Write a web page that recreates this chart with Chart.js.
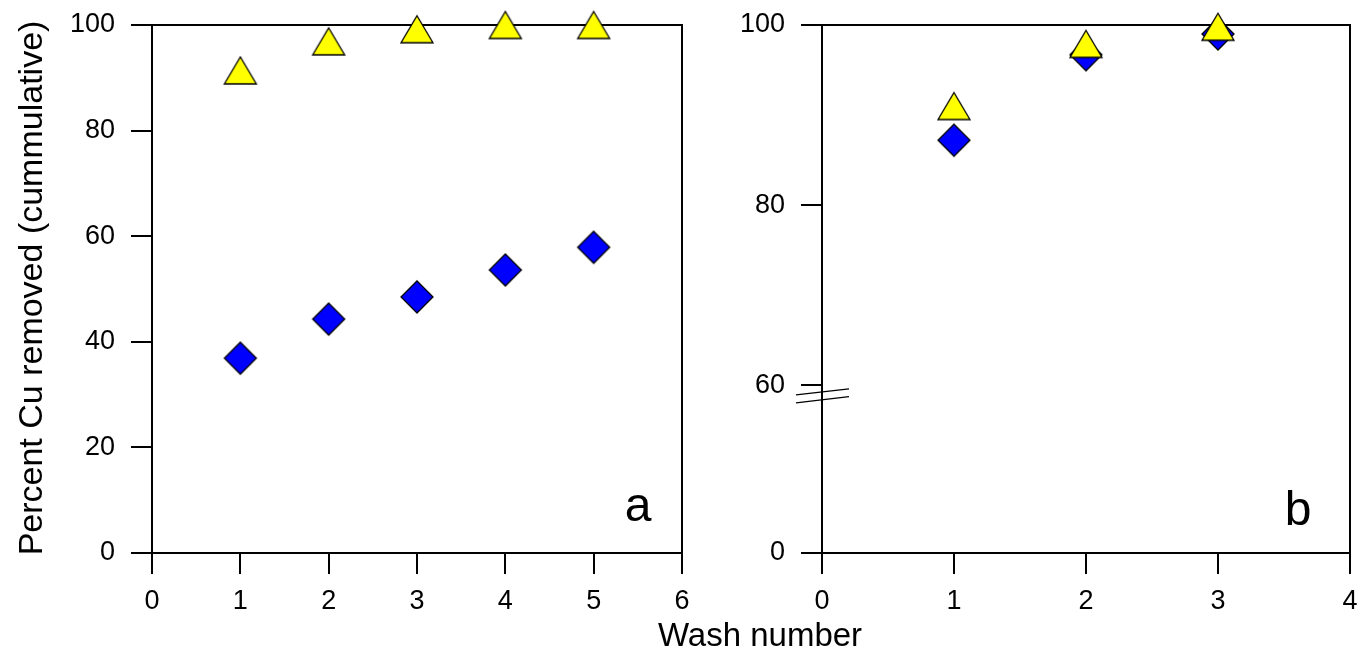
<!DOCTYPE html>
<html>
<head>
<meta charset="utf-8">
<script src="https://cdn.jsdelivr.net/npm/chart.js@4/dist/chart.umd.min.js"></script>
<style>
  html, body { margin: 0; padding: 0; background: #fff; }
  body { width: 1360px; height: 654px; position: relative; overflow: hidden;
         font-family: "Liberation Sans", Arial, sans-serif; color: #000; }
  #wrapA { position: absolute; left: 0; top: 0; width: 720px; height: 654px; }
  #wrapB { position: absolute; left: 720px; top: 0; width: 640px; height: 654px; }
  #xTitle { position: absolute; left: 560px; width: 400px; top: 618px; text-align: center;
            font-size: 33px; line-height: 33px; white-space: nowrap; }
</style>
</head>
<body>
<div id="wrapA"><canvas id="chartA" width="720" height="654"></canvas></div>
<div id="wrapB"><canvas id="chartB" width="640" height="654"></canvas></div>
<div id="xTitle">Wash number</div>
<script>
// Panel a: five successive washes
const washA = [1, 2, 3, 4, 5];
const triangleA = [91.4, 96.9, 99.2, 100, 100];
const diamondA = [36.9, 44.3, 48.5, 53.6, 57.9];

// Panel b: three successive washes
const washB = [1, 2, 3];
const triangleB = [91.0, 97.9, 99.8];
const diamondB = [87.2, 96.7, 99.0];

// Axis ticks
const yTicksB = [0, 60, 80, 100];
const Y_TITLE = 'Percent Cu removed (cummulative)';
const BREAK_AT = 60;          // value where panel b's y axis is broken
const LOWER_FRACTION = 0.318; // share of the axis height given to 0..60

const FONT = "'Liberation Sans', Arial, Helvetica, sans-serif";

// Marker images, centred on their bounding boxes
function triangleImage() {
  const c = document.createElement('canvas');
  c.width = 36; c.height = 31;
  const g = c.getContext('2d');
  g.beginPath();
  g.moveTo(18, 2); g.lineTo(34, 29); g.lineTo(2, 29); g.closePath();
  g.fillStyle = '#ffff00'; g.fill();
  g.lineWidth = 1.3; g.strokeStyle = '#000'; g.lineJoin = 'miter'; g.stroke();
  return c;
}
function diamondImage() {
  const c = document.createElement('canvas');
  c.width = 36; c.height = 36;
  const g = c.getContext('2d');
  g.beginPath();
  g.moveTo(18, 2); g.lineTo(34, 18); g.lineTo(18, 34); g.lineTo(2, 18); g.closePath();
  g.fillStyle = '#0000ff'; g.fill();
  g.lineWidth = 1.3; g.strokeStyle = '#000'; g.stroke();
  return c;
}
const TRI = triangleImage();
const DIA = diamondImage();

// Linear scale with a compressed lower segment (0..BREAK_AT)
class BrokenLinearScale extends Chart.LinearScale {
  static id = 'brokenLinear';
  static defaults = Chart.LinearScale.defaults;
  buildTicks() {
    return yTicksB.map(v => ({ value: v }));
  }
  getPixelForValue(value) {
    if (value === null || value === undefined || isNaN(value)) return NaN;
    let d;
    if (value <= BREAK_AT) {
      d = (value - this.min) / (BREAK_AT - this.min) * LOWER_FRACTION;
    } else {
      d = LOWER_FRACTION + (value - BREAK_AT) / (this.max - BREAK_AT) * (1 - LOWER_FRACTION);
    }
    return this.getPixelForDecimal(d);
  }
}
Chart.register(BrokenLinearScale);

function toPoints(xs, ys) { return xs.map((x, i) => ({ x: x, y: ys[i] })); }

function markerSet(label, xs, ys, img) {
  return {
    label: label,
    data: toPoints(xs, ys),
    pointStyle: img,
    pointRadius: 16,
    pointHoverRadius: 16,
    showLine: false,
    clip: false
  };
}

const tickFont = { family: FONT, size: 27 };
const gridOpts = { drawOnChartArea: false, drawTicks: true, tickLength: 21, color: '#000', lineWidth: 2 };
const borderOpts = { display: true, color: '#000', width: 2 };

// Fixed axis sizes; label overflow is handled by the layout padding instead
function fixWidth(w) {
  return function (s) { s.width = w; s.paddingTop = 0; s.paddingBottom = 0; };
}
function fixHeight(h) {
  return function (s) { s.height = h; s.paddingLeft = 0; s.paddingRight = 0; };
}

function xAxis(max) {
  return {
    type: 'linear', min: 0, max: max,
    ticks: { stepSize: 1, color: '#000', font: tickFont, padding: 11, maxRotation: 0, autoSkip: false },
    grid: gridOpts, border: borderOpts,
    afterFit: fixHeight(101)
  };
}

// Top and right edges of the plot box
const framePlugin = {
  id: 'frame',
  beforeDatasetsDraw(chart) {
    const a = chart.chartArea, ctx = chart.ctx;
    ctx.save();
    ctx.strokeStyle = '#000';
    ctx.lineWidth = 2;
    ctx.beginPath();
    ctx.moveTo(a.left, a.top);
    ctx.lineTo(a.right, a.top);
    ctx.lineTo(a.right, a.bottom);
    ctx.stroke();
    ctx.restore();
  }
};

// Panel letter in the lower right corner
const panelLetterPlugin = {
  id: 'panelLetter',
  afterDatasetsDraw(chart, args, opts) {
    const a = chart.chartArea, ctx = chart.ctx;
    ctx.save();
    ctx.font = '48px ' + FONT;
    ctx.fillStyle = '#000';
    ctx.textAlign = 'center';
    ctx.textBaseline = 'alphabetic';
    ctx.fillText(opts.text, a.right - opts.dx, a.bottom - opts.dy);
    ctx.restore();
  }
};

// Rotated y axis title for panel a
const yTitlePlugin = {
  id: 'yTitle',
  afterDraw(chart, args, opts) {
    if (!opts.text) return;
    const ctx = chart.ctx;
    ctx.save();
    ctx.translate(opts.x, opts.y);
    ctx.rotate(-Math.PI / 2);
    ctx.font = opts.size + 'px ' + FONT;
    ctx.fillStyle = '#000';
    ctx.textAlign = 'center';
    ctx.textBaseline = 'alphabetic';
    ctx.fillText(opts.text, 0, 0);
    ctx.restore();
  }
};

// Double slash marking the y axis break in panel b
const breakMarkPlugin = {
  id: 'breakMark',
  afterDatasetsDraw(chart, args, opts) {
    if (!opts.enabled) return;
    const ys = chart.scales.y, ctx = chart.ctx;
    const x = chart.chartArea.left;
    const y0 = ys.getPixelForValue(BREAK_AT);
    ctx.save();
    ctx.strokeStyle = '#000';
    ctx.lineWidth = 1.2;
    ctx.beginPath();
    ctx.moveTo(x - 26, y0 + 9.8);  ctx.lineTo(x + 27, y0 + 3.8);
    ctx.moveTo(x - 26, y0 + 17.8); ctx.lineTo(x + 27, y0 + 11.6);
    ctx.stroke();
    ctx.restore();
  }
};

const common = {
  responsive: false,
  animation: false,
  events: [],
  devicePixelRatio: 1
};

new Chart(document.getElementById('chartA'), {
  type: 'scatter',
  data: {
    datasets: [
      markerSet('triangles', washA, triangleA, TRI),
      markerSet('diamonds', washA, diamondA, DIA)
    ]
  },
  options: Object.assign({}, common, {
    layout: { autoPadding: false, padding: { top: 25, right: 38, bottom: 0, left: 0 } },
    scales: {
      x: xAxis(6),
      y: {
        type: 'linear', min: 0, max: 100,
        ticks: { stepSize: 20, color: '#000', font: tickFont, padding: 16 },
        grid: gridOpts, border: borderOpts,
        afterFit: fixWidth(152)
      }
    },
    plugins: {
      legend: { display: false },
      tooltip: { enabled: false },
      panelLetter: { text: 'a', dx: 44, dy: 32 },
      yTitle: { text: Y_TITLE, x: 41.5, y: 288, size: 34 },
      breakMark: { enabled: false }
    }
  }),
  plugins: [framePlugin, panelLetterPlugin, yTitlePlugin, breakMarkPlugin]
});

new Chart(document.getElementById('chartB'), {
  type: 'scatter',
  data: {
    datasets: [
      markerSet('triangles', washB, triangleB, TRI),
      markerSet('diamonds', washB, diamondB, DIA)
    ]
  },
  options: Object.assign({}, common, {
    layout: { autoPadding: false, padding: { top: 25, right: 10, bottom: 0, left: 0 } },
    scales: {
      x: xAxis(4),
      y: {
        type: 'brokenLinear', min: 0, max: 100,
        ticks: { color: '#000', font: tickFont, padding: 16, autoSkip: false },
        grid: gridOpts, border: borderOpts,
        afterFit: fixWidth(102)
      }
    },
    plugins: {
      legend: { display: false },
      tooltip: { enabled: false },
      panelLetter: { text: 'b', dx: 52, dy: 28.5 },
      yTitle: { text: '' },
      breakMark: { enabled: true }
    }
  }),
  plugins: [framePlugin, panelLetterPlugin, yTitlePlugin, breakMarkPlugin]
});
</script>
</body>
</html>
